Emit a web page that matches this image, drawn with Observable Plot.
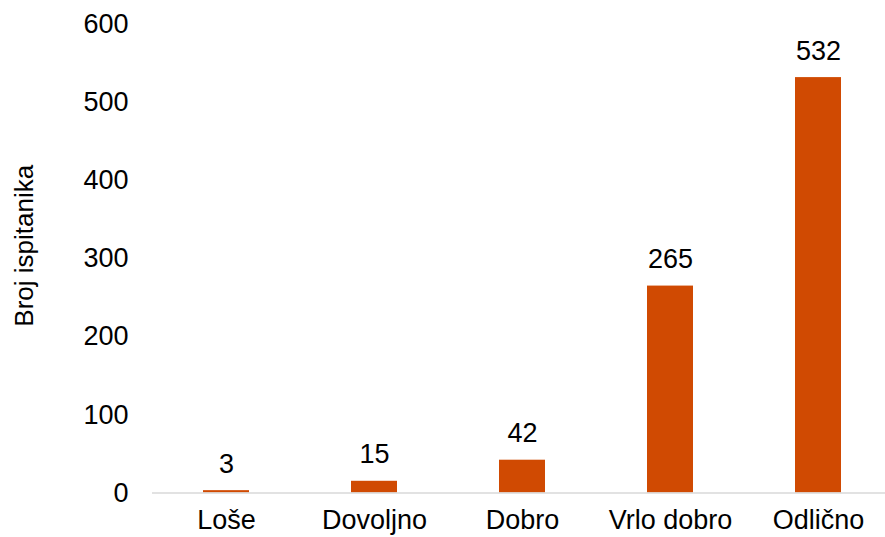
<!DOCTYPE html>
<html>
<head>
<meta charset="utf-8">
<script src="https://cdn.jsdelivr.net/npm/d3@7"></script>
<script src="https://cdn.jsdelivr.net/npm/@observablehq/plot@0.6"></script>
<style>
  html, body { margin: 0; padding: 0; background: #fff; }
  #chart svg { display: block; }
</style>
</head>
<body>
<div id="chart"></div>
<script>
const categories = ["Loše", "Dovoljno", "Dobro", "Vrlo dobro", "Odlično"];
const values = [3, 15, 42, 265, 532];
const yTicks = [0, 100, 200, 300, 400, 500, 600];
const yLabel = "Broj ispitanika";

const data = categories.map((c, i) => ({category: c, value: values[i]}));
const barColor = "#d04a02";
const font = "'Liberation Sans', Arial, sans-serif";
const fs = 27;

const chart = Plot.plot({
  width: 885,
  height: 537,
  marginLeft: 152,
  marginRight: 0,
  marginTop: 24,
  marginBottom: 44.5,
  style: {fontFamily: font, fontSize: fs + "px", color: "#000", background: "#fff"},
  x: {domain: categories, range: [152, 892], paddingInner: 0.689, paddingOuter: 0.3445, label: null},
  y: {domain: [0, 600], label: null},
  marks: [
    Plot.barY(data, {x: "category", y: "value", fill: barColor}),
    Plot.ruleY([0], {stroke: "#d9d9d9", strokeWidth: 1.5}),
    Plot.text(data, {x: "category", y: "value", text: d => String(d.value), lineAnchor: "bottom", dy: -18, fontSize: fs, fill: "#000"}),
    Plot.axisX({tickSize: 0, tickPadding: 17, fontSize: fs, label: null}),
    Plot.axisY({ticks: yTicks, tickSize: 0, tickPadding: 24, fontSize: fs, label: null}),
    Plot.text([yLabel], {frameAnchor: "left", textAnchor: "middle", rotate: -90, dx: -128, dy: -13, fontSize: 26, fill: "#000"})
  ]
});
document.getElementById("chart").append(chart);
</script>
</body>
</html>
